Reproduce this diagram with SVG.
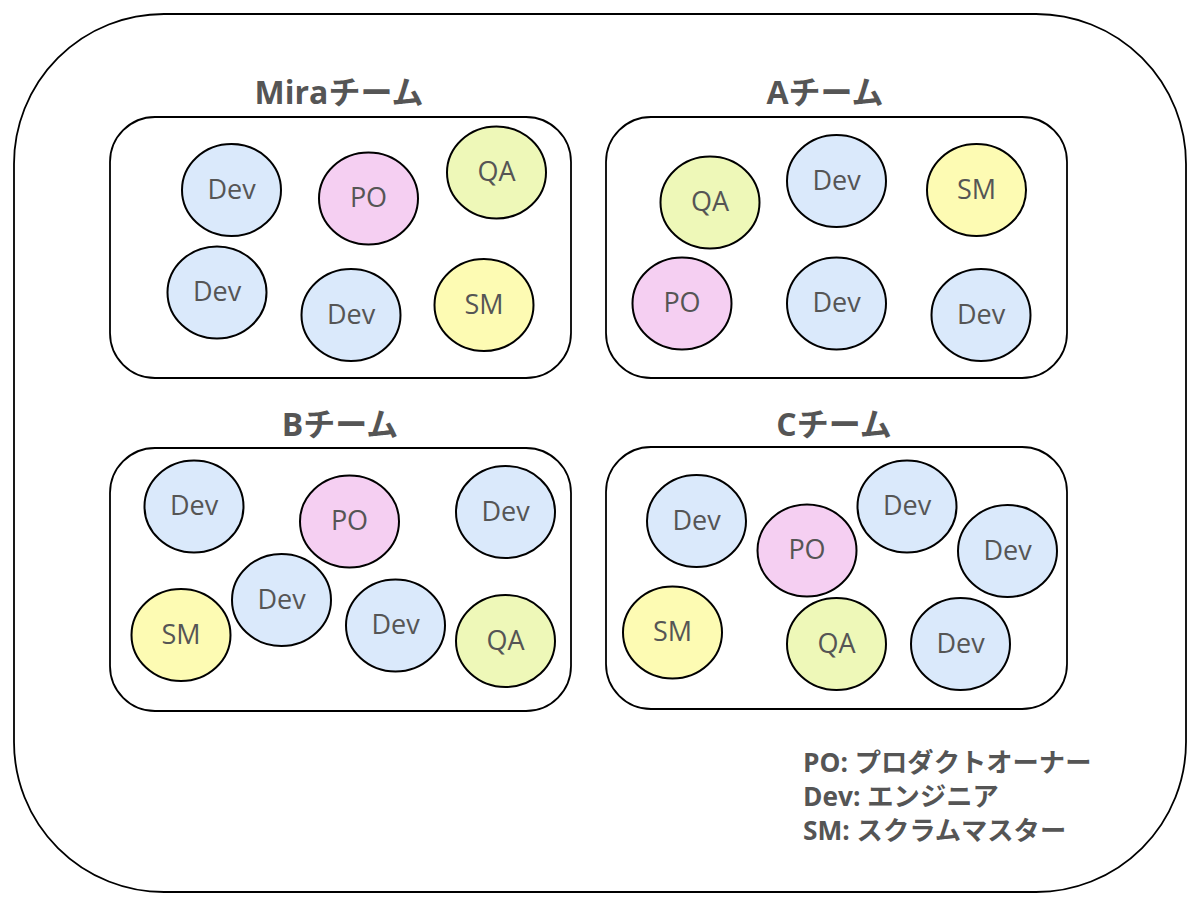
<svg xmlns="http://www.w3.org/2000/svg" width="1200" height="905" viewBox="0 0 1200 905">
<style>
.box{fill:#ffffff;stroke:#000000;stroke-width:1.8}
.m{stroke:#000000;stroke-width:2}
.dev{fill:#dae9fb}
.po{fill:#f5cff2}
.qa{fill:#eef8b8}
.sm{fill:#fdfbb3}
.lbl{font-family:"Open Sans","Noto Sans CJK JP",sans-serif;font-size:27px;fill:#555555;text-anchor:middle}
.ttl{font-family:"Open Sans","Noto Sans CJK JP",sans-serif;font-size:32px;font-weight:bold;fill:#555555;text-anchor:middle}
.leg{font-family:"Open Sans","Noto Sans CJK JP",sans-serif;font-size:26.3px;font-weight:bold;fill:#555555}
</style>
<rect id="outer" x="14" y="14" width="1172" height="878" rx="150" ry="150" fill="#ffffff" stroke="#000000" stroke-width="1.8"/>
<g id="connectors"></g>

<g id="team-mira">
<text class="ttl" x="339" y="104">Miraチーム</text>
<rect class="box" x="110" y="117" width="461" height="261" rx="45" ry="45"/>
<g id="mira-dev1"><ellipse class="m dev" cx="231.5" cy="190" rx="49.5" ry="46"/><text class="lbl" x="231.5" y="198.5">Dev</text></g>
<g id="mira-po"><ellipse class="m po" cx="368.5" cy="198.5" rx="49.5" ry="46"/><text class="lbl" x="368.5" y="207">PO</text></g>
<g id="mira-qa"><ellipse class="m qa" cx="496.5" cy="172.5" rx="49.5" ry="46"/><text class="lbl" x="496.5" y="181">QA</text></g>
<g id="mira-dev2"><ellipse class="m dev" cx="217" cy="292.5" rx="49.5" ry="46"/><text class="lbl" x="217" y="301">Dev</text></g>
<g id="mira-dev3"><ellipse class="m dev" cx="351" cy="315" rx="49.5" ry="46"/><text class="lbl" x="351" y="323.5">Dev</text></g>
<g id="mira-sm"><ellipse class="m sm" cx="484" cy="305" rx="49.5" ry="46"/><text class="lbl" x="484" y="313.5">SM</text></g>
</g>

<g id="team-a">
<text class="ttl" x="825" y="104">Aチーム</text>
<rect class="box" x="606" y="117" width="461" height="261" rx="45" ry="45"/>
<g id="a-qa"><ellipse class="m qa" cx="710" cy="202.5" rx="49.5" ry="46"/><text class="lbl" x="710" y="211">QA</text></g>
<g id="a-dev1"><ellipse class="m dev" cx="836.5" cy="181" rx="49.5" ry="46"/><text class="lbl" x="836.5" y="189.5">Dev</text></g>
<g id="a-sm"><ellipse class="m sm" cx="976.5" cy="190" rx="49.5" ry="46"/><text class="lbl" x="976.5" y="198.5">SM</text></g>
<g id="a-po"><ellipse class="m po" cx="682" cy="303.5" rx="49.5" ry="46"/><text class="lbl" x="682" y="312">PO</text></g>
<g id="a-dev2"><ellipse class="m dev" cx="836.5" cy="303.5" rx="49.5" ry="46"/><text class="lbl" x="836.5" y="312">Dev</text></g>
<g id="a-dev3"><ellipse class="m dev" cx="981" cy="315" rx="49.5" ry="46"/><text class="lbl" x="981" y="323.5">Dev</text></g>
</g>

<g id="team-b">
<text class="ttl" x="340" y="436">Bチーム</text>
<rect class="box" x="110" y="448" width="461" height="263" rx="45" ry="45"/>
<g id="b-dev1"><ellipse class="m dev" cx="194" cy="506.5" rx="49.5" ry="46"/><text class="lbl" x="194" y="515">Dev</text></g>
<g id="b-po"><ellipse class="m po" cx="349.5" cy="521.5" rx="49.5" ry="46"/><text class="lbl" x="349.5" y="530">PO</text></g>
<g id="b-dev2"><ellipse class="m dev" cx="505.5" cy="512" rx="49.5" ry="46"/><text class="lbl" x="505.5" y="520.5">Dev</text></g>
<g id="b-sm"><ellipse class="m sm" cx="181" cy="635" rx="49.5" ry="46"/><text class="lbl" x="181" y="643.5">SM</text></g>
<g id="b-dev3"><ellipse class="m dev" cx="281.5" cy="600" rx="49.5" ry="46"/><text class="lbl" x="281.5" y="608.5">Dev</text></g>
<g id="b-dev4"><ellipse class="m dev" cx="395.5" cy="625.5" rx="49.5" ry="46"/><text class="lbl" x="395.5" y="634">Dev</text></g>
<g id="b-qa"><ellipse class="m qa" cx="505.5" cy="641" rx="49.5" ry="46"/><text class="lbl" x="505.5" y="649.5">QA</text></g>
</g>

<g id="team-c">
<text class="ttl" x="834" y="436">Cチーム</text>
<rect class="box" x="606" y="447" width="461" height="262" rx="45" ry="45"/>
<g id="c-dev1"><ellipse class="m dev" cx="696.5" cy="521" rx="49.5" ry="46"/><text class="lbl" x="696.5" y="529.5">Dev</text></g>
<g id="c-po"><ellipse class="m po" cx="807" cy="550.5" rx="49.5" ry="46"/><text class="lbl" x="807" y="559">PO</text></g>
<g id="c-dev2"><ellipse class="m dev" cx="907" cy="506.5" rx="49.5" ry="46"/><text class="lbl" x="907" y="515">Dev</text></g>
<g id="c-dev3"><ellipse class="m dev" cx="1007.5" cy="551" rx="49.5" ry="46"/><text class="lbl" x="1007.5" y="559.5">Dev</text></g>
<g id="c-sm"><ellipse class="m sm" cx="672.5" cy="632.5" rx="49.5" ry="46"/><text class="lbl" x="672.5" y="641">SM</text></g>
<g id="c-qa"><ellipse class="m qa" cx="836.5" cy="644" rx="49.5" ry="46"/><text class="lbl" x="836.5" y="652.5">QA</text></g>
<g id="c-dev4"><ellipse class="m dev" cx="960.5" cy="644" rx="49.5" ry="46"/><text class="lbl" x="960.5" y="652.5">Dev</text></g>
</g>

<g id="legend">
<text class="leg" x="803" y="772">PO: プロダクトオーナー</text>
<text class="leg" x="803" y="806">Dev: エンジニア</text>
<text class="leg" x="803" y="840">SM: スクラムマスター</text>
</g>
</svg>
